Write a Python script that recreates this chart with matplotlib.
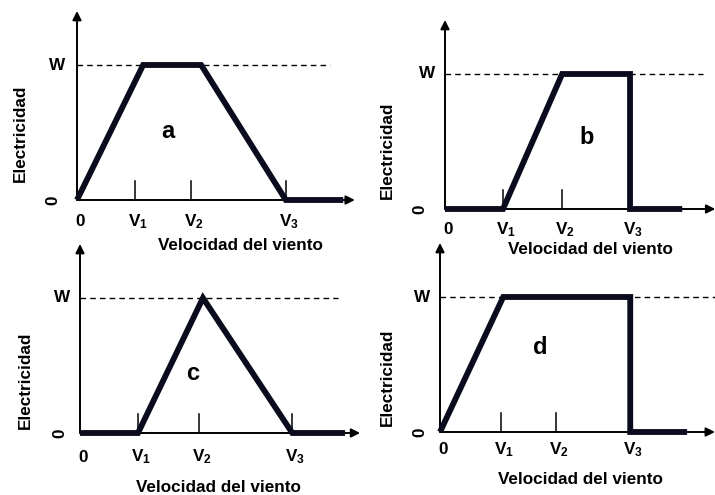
import matplotlib.pyplot as plt

plt.rcParams['font.family'] = 'Liberation Sans'
plt.rcParams['font.weight'] = 'bold'
plt.rcParams['mathtext.fontset'] = 'custom'
plt.rcParams['mathtext.default'] = 'bf'
plt.rcParams['mathtext.bf'] = 'Liberation Sans:bold'
plt.rcParams['mathtext.rm'] = 'Liberation Sans:bold'

# velocidad en unidades de V1, electricidad en unidades de W
etiquetas_x = ['0', 'V$_1$', 'V$_2$', 'V$_3$']
etiquetas_y = ['0', 'W']

vel_a = [0, 1.14, 2.14, 3.6, 4.59]
pot_a = [0, 1, 1, 0, 0]
ticks_a = [1, 1.97, 3.6]

vel_b = [0, 1, 2.02, 3.19, 3.19, 4.09]
pot_b = [0, 0, 1, 1, 0, 0]
ticks_b = [1, 2.02, 3.19]

vel_c = [0, 1, 2.12, 3.66, 4.57]
pot_c = [0, 0, 1, 0, 0]
ticks_c = [1, 2.05, 3.66]

vel_d = [0, 1.09, 3.28, 3.28, 4.26]
pot_d = [0, 1, 1, 0, 0]
ticks_d = [1.05, 2.0, 3.28]

UX = 58.0   # px por unidad de velocidad
UY = 135.0  # px por W
ANCHO, ALTO = 715, 495
TAM = 12.3

fig = plt.figure(figsize=(ANCHO / 100, ALTO / 100), dpi=100)


def panel(ox, oy, vel, pot, ticks, letra, fin_eje, fin_guion,
          dy_ticks, xlab, ylab, pos_letra, dx_cero, dx_w):
    # ejes que cubren la zona del panel, origen en el pixel (ox, oy)
    izq, der, abajo, arriba = 80, 290, 65, 200
    ax = fig.add_axes([(ox - izq) / ANCHO, (ALTO - oy - abajo) / ALTO,
                       (izq + der) / ANCHO, (abajo + arriba) / ALTO])
    ax.set_xlim(-izq / UX, der / UX)
    ax.set_ylim(-abajo / UY, arriba / UY)
    ax.axis('off')

    flecha = dict(arrowstyle='-|>', lw=1.4, color='black',
                  mutation_scale=13, shrinkA=0, shrinkB=0)
    ax.annotate('', xy=(0, 1.4), xytext=(0, 0), arrowprops=flecha,
                annotation_clip=False)
    ax.annotate('', xy=(fin_eje, 0), xytext=(0, 0), arrowprops=flecha,
                annotation_clip=False)

    # linea de potencia nominal
    ax.plot([0, fin_guion], [1, 1], color='black', lw=1.0,
            dashes=(4, 3), clip_on=False)

    for t in ticks:
        ax.plot([t, t], [0, 19 / UY], color='black', lw=1.1, clip_on=False)

    ax.plot(vel, pot, color='#0b0b1e', lw=4.2, solid_joinstyle='miter',
            solid_capstyle='butt', clip_on=False, zorder=3)

    # etiquetas del eje x
    posiciones = [0] + list(ticks)
    for p, txt in zip(posiciones, etiquetas_x):
        ax.text(p + 3 / UX, -dy_ticks / UY, txt, ha='center', va='center',
                fontsize=TAM)
    ax.text(xlab[0] / UX, -xlab[1] / UY, 'Velocidad del viento',
            ha='center', va='center', fontsize=TAM)

    # etiquetas del eje y
    ax.text(-dx_cero / UX, 0, etiquetas_y[0], rotation=90, ha='center',
            va='center', fontsize=TAM)
    ax.text(-dx_w / UX, 1, etiquetas_y[1], ha='center', va='center',
            fontsize=TAM)
    ax.text(-ylab[0] / UX, ylab[1] / UY, 'Electricidad', rotation=90,
            ha='center', va='center', fontsize=TAM)

    ax.text(pos_letra[0] / UX, pos_letra[1] / UY, letra, ha='center',
            va='center', fontsize=17)


panel(77, 200, vel_a, pot_a, ticks_a, 'a', 4.79, 4.36, 22,
      (163, 45), (57, 67), (91, 68), 24, 20)
panel(445, 209, vel_b, pot_b, ticks_b, 'b', 4.66, 4.45, 21,
      (145, 40), (58, 59), (142, 71), 25, 18)
panel(80, 433, vel_c, pot_c, ticks_c, 'c', 4.83, 4.45, 24,
      (138, 55), (55, 53), (113, 60), 20, 18)
panel(440, 432, vel_d, pot_d, ticks_d, 'd', 4.74, 4.74, 18,
      (140, 48), (53, 55), (100, 85), 20, 18)

fig.savefig('out.png', dpi=100)
